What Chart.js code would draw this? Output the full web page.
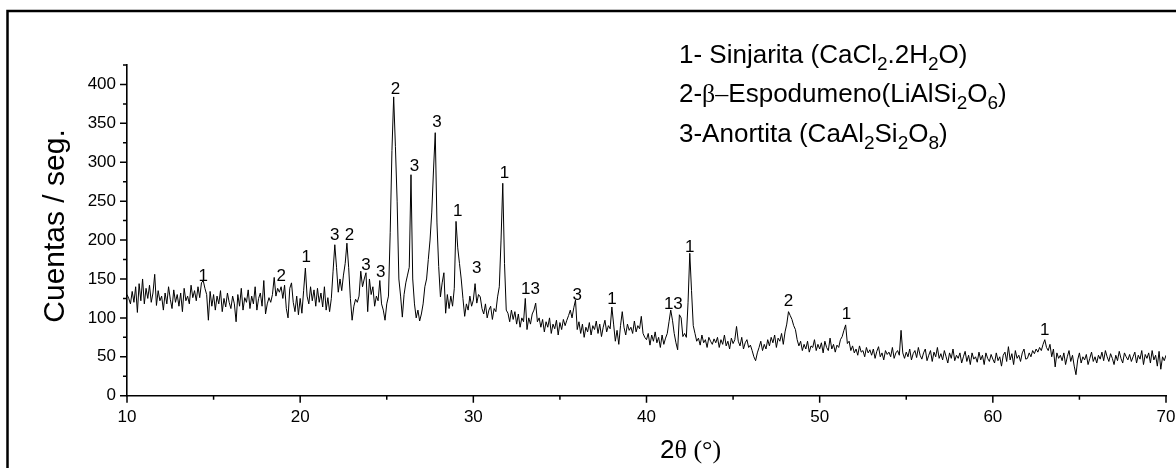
<!DOCTYPE html>
<html>
<head>
<meta charset="utf-8">
<title>DRX</title>
<script src="https://cdn.jsdelivr.net/npm/chart.js@4.4.1/dist/chart.umd.min.js"></script>
<style>
  html, body { margin: 0; padding: 0; background: #fff; }
  canvas { display: block; }
</style>
</head>
<body>
<canvas id="xrd" width="1176" height="468"></canvas>
<script>
const angleStart = 10;
const angleStep = 0.1;

// cuentas / seg., one row per degree (x.0 ... x.9)
const counts = [
  130, 125, 118, 134, 120, 140, 107, 144, 122, 150,
  118, 138, 125, 142, 120, 132, 156, 116, 135, 122,
  128, 110, 132, 118, 140, 124, 112, 136, 120, 130,
  115, 132, 108, 138, 122, 128, 118, 142, 126, 135,
  122, 140, 126, 145, 148, 138, 130, 97, 134, 115,
  130, 110, 128, 118, 135, 108, 125, 114, 132, 120,
  112, 128, 118, 95, 130, 115, 138, 110, 126, 120,
  136, 112, 128, 118, 140, 110, 125, 132, 115, 148,
  105, 118, 126, 120, 130, 152, 128, 138, 133, 140,
  125, 142, 112, 100, 138, 145, 120, 108, 128, 104,
  125, 106, 135, 164, 128, 118, 140, 122, 136, 115,
  138, 120, 132, 114, 140, 110, 126, 108, 125, 160,
  194, 165, 133, 150, 135, 155, 170, 196, 165, 125,
  97, 115, 124, 120, 128, 160, 140, 150, 158, 108,
  150, 130, 140, 115, 128, 122, 148, 118, 110, 97,
  118, 128, 210, 315, 384, 320, 250, 150, 128, 101,
  130, 145, 155, 165, 284, 150, 118, 100, 110, 96,
  105, 118, 140, 150, 175, 200, 236, 290, 338, 222,
  166, 127, 145, 158, 106, 130, 112, 128, 115, 138,
  224, 190, 170, 150, 125, 102, 118, 110, 128, 115,
  123, 144, 119, 130, 127, 112, 105, 118, 100, 110,
  115, 98, 112, 108, 127, 140, 200, 273, 170, 110,
  106, 95, 110, 98, 108, 92, 105, 88, 100, 95,
  125, 85, 100, 92, 105, 110, 119, 95, 100, 88,
  98, 82, 95, 88, 100, 80, 92, 86, 97, 78,
  94, 85, 98, 90, 97, 103, 110, 100, 113, 123,
  85, 95, 80, 92, 75, 88, 82, 94, 78, 90,
  85, 96, 80, 92, 76, 88, 97, 82, 90, 86,
  114, 92, 70, 84, 66, 90, 108, 88, 78, 92,
  84, 88, 80, 96, 82, 90, 86, 102, 80, 75,
  72, 80, 65, 78, 70, 82, 68, 75, 62, 78,
  66, 74, 80, 95, 110, 97, 80, 68, 59, 104,
  100, 76, 80, 75, 120, 183, 135, 90, 80, 70,
  74, 65, 78, 68, 72, 62, 75, 70, 66, 73,
  68, 75, 62, 72, 66, 78, 64, 70, 60, 74,
  67, 72, 89, 70, 64, 75, 60, 68, 72, 62,
  65, 58, 50, 45, 55, 62, 70, 58, 66, 60,
  72, 64, 75, 68, 78, 62, 74, 70, 80, 66,
  82, 92, 108, 103, 98, 90, 85, 72, 64, 70,
  58, 66, 60, 70, 56, 64, 62, 72, 58, 66,
  60, 68, 55, 70, 62, 58, 74, 60, 66, 56,
  65, 62, 72, 76, 84, 91, 67, 70, 58, 64,
  55, 60, 52, 64, 56, 58, 50, 62, 55, 59,
  52, 60, 48, 57, 63, 50, 55, 46, 58, 53,
  56, 50, 62, 48, 55, 58, 52, 84, 55, 48,
  56, 50, 60, 46, 54, 58, 49, 62, 52, 47,
  55, 60, 45, 52, 58, 44, 56, 50, 62, 48,
  54, 46, 58, 50, 42, 55, 48, 60, 45, 52,
  48, 55, 42, 50, 57, 44, 52, 40, 55, 47,
  50, 43, 56, 46, 52, 40, 55, 48, 44, 53,
  47, 42, 55, 45, 50, 38, 52, 56, 44, 63,
  46, 54, 40, 58, 48, 52, 44, 55, 60, 47,
  48, 55, 50, 58, 54, 60, 56, 62, 58, 66,
  72, 62, 58, 66, 50, 60, 37, 55, 48, 52,
  45, 55, 40, 50, 58, 44, 52, 38, 27, 46,
  55, 42, 50, 46, 53, 40, 48, 56, 44, 50,
  42, 52, 47, 56, 45, 58, 50, 44, 54, 48,
  40, 52, 45, 57, 48, 42, 55, 50, 46, 53,
  44, 50, 56, 42, 52, 47, 58, 40, 53, 48,
  55, 42, 58, 46, 52, 38, 57, 34, 50, 45,
  52,
];

const xTickValues = [10, 15, 20, 25, 30, 35, 40, 45, 50, 55, 60, 65, 70];
const yTickValues = [0, 25, 50, 75, 100, 125, 150, 175, 200, 225, 250, 275,
  300, 325, 350, 375, 400, 425];

// phase tags above the peaks: angle, level of the tag (counts), tag
const peakAngles = [14.4, 18.9, 20.35, 22.0, 22.85, 23.8, 24.65, 25.5, 26.6,
  27.9, 29.1, 30.2, 31.8, 33.3, 36.0, 38.0, 41.55, 42.5, 48.2, 51.55, 63.0];
const peakLevels = [155, 155, 180, 208, 208, 169, 160, 396, 297,
  353, 239, 165, 288, 139, 131, 126, 119, 192, 123, 106, 86];
const peakTags = ["1", "2", "1", "3", "2", "3", "3", "2", "3",
  "3", "1", "3", "1", "13", "3", "1", "13", "1", "2", "1", "1"];

// legend lines as [text, style] pieces: n = normal, s = subscript, g = greek
const legendLines = [
  [["1- Sinjarita (CaCl", "n"], ["2", "s"], [".2H", "n"], ["2", "s"], ["O)", "n"]],
  [["2-", "n"], ["\u03b2\u2013", "g"], ["Espodumeno(LiAlSi", "n"], ["2", "s"], ["O", "n"], ["6", "s"], [")", "n"]],
  [["3-Anortita (CaAl", "n"], ["2", "s"], ["Si", "n"], ["2", "s"], ["O", "n"], ["8", "s"], [")", "n"]],
];

const SANS = '"Liberation Sans", Arial, sans-serif';
const SERIF = '"Liberation Serif", "Times New Roman", serif';

const points = counts.map((c, i) => ({
  x: +(angleStart + i * angleStep).toFixed(2),
  y: c,
}));

function drawPieces(ctx, pieces, x, baseline) {
  let cx = x;
  pieces.forEach(([text, kind]) => {
    if (kind === "s") ctx.font = `19px ${SANS}`;
    else if (kind === "g") ctx.font = `26px ${SERIF}`;
    else ctx.font = `26px ${SANS}`;
    const dy = kind === "s" ? 7 : 0;
    ctx.fillText(text, cx, baseline + dy);
    cx += ctx.measureText(text).width;
  });
}

const decorations = {
  id: "decorations",
  beforeDraw(chart) {
    const ctx = chart.ctx;
    ctx.save();
    ctx.fillStyle = "#fff";
    ctx.fillRect(0, 0, chart.width, chart.height);
    ctx.strokeStyle = "#000";
    ctx.lineWidth = 2.5;
    ctx.strokeRect(7.5, 11, 1180, 470);
    ctx.restore();
  },
  afterDraw(chart) {
    const ctx = chart.ctx;
    const xs = chart.scales.x;
    const ys = chart.scales.y;
    const area = chart.chartArea;

    ctx.save();
    ctx.strokeStyle = "#000";
    ctx.lineWidth = 1.5;
    ctx.beginPath();
    yTickValues.forEach((v) => {
      const py = ys.getPixelForValue(v);
      const len = v % 50 === 0 ? 7 : 4;
      ctx.moveTo(area.left - len, py);
      ctx.lineTo(area.left, py);
    });
    xTickValues.forEach((v) => {
      const px = xs.getPixelForValue(v);
      const len = v % 10 === 0 ? 7 : 4;
      ctx.moveTo(px, area.bottom);
      ctx.lineTo(px, area.bottom + len);
    });
    ctx.stroke();

    ctx.fillStyle = "#000";
    ctx.textAlign = "center";
    ctx.textBaseline = "alphabetic";
    ctx.font = `17px ${SANS}`;
    peakTags.forEach((tag, i) => {
      const px = xs.getPixelForValue(peakAngles[i]);
      const py = ys.getPixelForValue(peakLevels[i]);
      ctx.fillText(tag, px, py + 6);
    });

    ctx.save();
    ctx.translate(64, 226);
    ctx.rotate(-Math.PI / 2);
    ctx.font = `30px ${SANS}`;
    ctx.fillText("Cuentas / seg.", 0, 0);
    ctx.restore();

    ctx.textAlign = "left";
    ctx.font = `26px ${SANS}`;
    ctx.fillText("2", 660, 458);
    const w2 = ctx.measureText("2").width;
    ctx.font = `26px ${SERIF}`;
    ctx.fillText("\u03b8 (\u00b0)", 660 + w2, 458);

    legendLines.forEach((pieces, i) => {
      drawPieces(ctx, pieces, 679, 63 + i * 39.3);
    });
    ctx.restore();
  },
};

new Chart(document.getElementById("xrd"), {
  type: "line",
  data: {
    datasets: [
      {
        data: points,
        borderColor: "#000",
        borderWidth: 1,
        pointRadius: 0,
        tension: 0,
        fill: false,
      },
    ],
  },
  options: {
    responsive: false,
    devicePixelRatio: 1,
    animation: false,
    layout: { padding: { top: 65, right: 10, left: 0, bottom: 0 } },
    plugins: {
      legend: { display: false },
      tooltip: { enabled: false },
    },
    scales: {
      x: {
        type: "linear",
        min: 10,
        max: 70,
        afterBuildTicks: (s) => {
          s.ticks = xTickValues.map((v) => ({ value: v }));
        },
        afterFit: (s) => {
          s.height = 72.3;
          s.paddingLeft = 0;
          s.paddingRight = 0;
        },
        grid: { display: false, drawTicks: false },
        border: { display: true, color: "#000", width: 1.6 },
        ticks: {
          color: "#000",
          font: { family: SANS, size: 17 },
          padding: 11,
          maxRotation: 0,
          autoSkip: false,
          callback: (v) => (v % 10 === 0 ? String(v) : ""),
        },
      },
      y: {
        min: 0,
        max: 425,
        afterBuildTicks: (s) => {
          s.ticks = yTickValues.map((v) => ({ value: v }));
        },
        afterFit: (s) => {
          s.width = 127;
          s.paddingTop = 0;
          s.paddingBottom = 0;
        },
        grid: { display: false, drawTicks: false },
        border: { display: true, color: "#000", width: 1.6 },
        ticks: {
          color: "#000",
          font: { family: SANS, size: 17 },
          padding: 11,
          autoSkip: false,
          callback: (v) => (v % 50 === 0 ? String(v) : ""),
        },
      },
    },
  },
  plugins: [decorations],
});
</script>
</body>
</html>
